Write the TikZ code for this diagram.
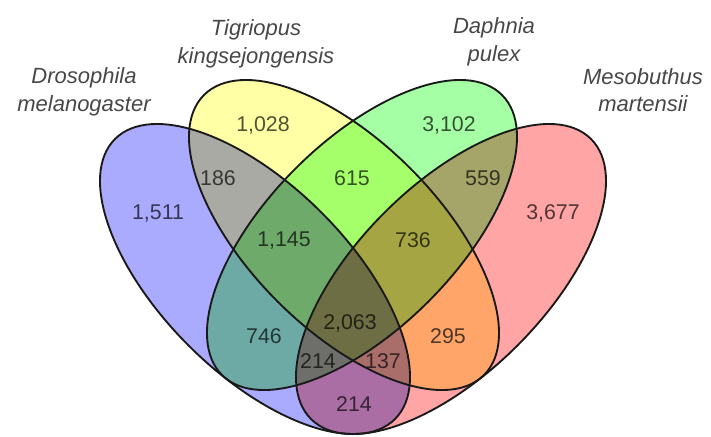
\documentclass[tikz,border=0pt]{standalone}
\usepackage{fontspec}
\setmainfont{Liberation Sans}
\definecolor{setA}{RGB}{170,170,255}
\definecolor{setB}{RGB}{255,255,165}
\definecolor{setC}{RGB}{165,255,165}
\definecolor{setD}{RGB}{255,165,165}
\begin{document}
\begin{tikzpicture}[x=0.75pt, y=-0.75pt,
    num/.style={font=\fontsize{16}{19}\selectfont, text=black!68},
    species/.style={font=\fontsize{16.5}{20.6}\selectfont\itshape, text=black!72, align=center},
    outline/.style={draw=black!90, line width=1.4pt}]
    \useasboundingbox (0,0) rectangle (711,436);

    % 四个椭圆（正片叠底）
    \begin{scope}[blend group=multiply]
        \fill[setA] (255,279) ellipse [x radius=198, y radius=94, rotate=-45];
        \fill[setB] (344,235) ellipse [x radius=198, y radius=94, rotate=-45];
        \fill[setC] (362,235) ellipse [x radius=198, y radius=94, rotate=45];
        \fill[setD] (451,279) ellipse [x radius=198, y radius=94, rotate=45];

        % 各区域的数目
        \node[num] (a)    at (158,214) {1,511};
        \node[num] (b)    at (263,125) {1,028};
        \node[num] (c)    at (449,125) {3,102};
        \node[num] (d)    at (553,213) {3,677};
        \node[num] (ab)   at (218,178) {186};
        \node[num] (bc)   at (352,178) {615};
        \node[num] (cd)   at (483,178) {559};
        \node[num] (abc)  at (284,241) {1,145};
        \node[num] (bcd)  at (413,240) {736};
        \node[num] (ac)   at (264,336) {746};
        \node[num] (abcd) at (350,323) {2,063};
        \node[num] (bd)   at (448,336) {295};
        \node[num] (acd)  at (318,361) {214};
        \node[num] (abd)  at (383,361) {137};
        \node[num] (ad)   at (354,404) {214};
    \end{scope}

    % 边框
    \draw[outline] (255,279) ellipse [x radius=198, y radius=94, rotate=-45];
    \draw[outline] (344,235) ellipse [x radius=198, y radius=94, rotate=-45];
    \draw[outline] (362,235) ellipse [x radius=198, y radius=94, rotate=45];
    \draw[outline] (451,279) ellipse [x radius=198, y radius=94, rotate=45];

    % 物种名
    \node[species] (labA) at (84,92)  {Drosophila\\melanogaster};
    \node[species] (labB) at (256,44) {Tigriopus\\kingsejongensis};
    \node[species] (labC) at (494,42) {Daphnia\\pulex};
    \node[species] (labD) at (643,90) {Mesobuthus\\martensii};
\end{tikzpicture}
\end{document}
